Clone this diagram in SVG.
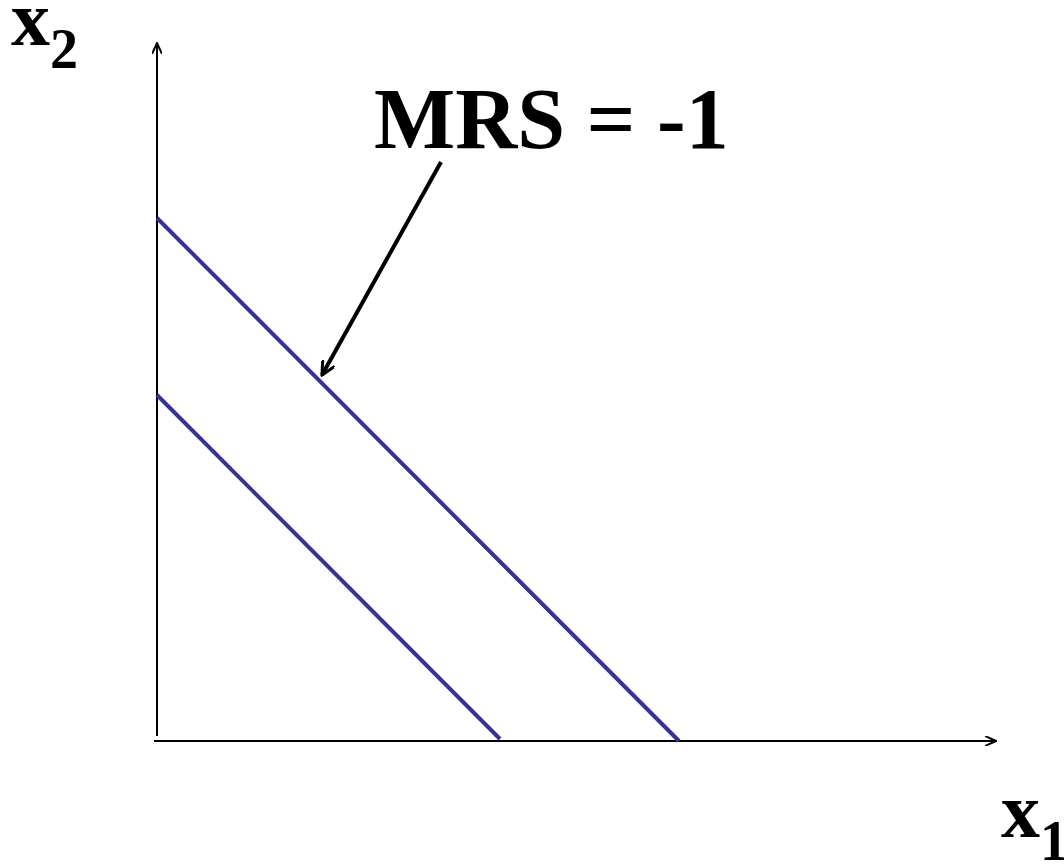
<svg xmlns="http://www.w3.org/2000/svg" width="1064" height="865" viewBox="0 0 1064 865">
<style>
.lbl{font-family:"Liberation Serif","Times New Roman",serif;font-weight:bold;fill:#000}
.axis{stroke:#000;stroke-width:2;fill:none}
.ic{stroke:#333399;stroke-width:4;fill:none}
</style>
<defs>
<marker id="ah" markerWidth="12" markerHeight="10" refX="11" refY="5" orient="auto" markerUnits="userSpaceOnUse">
<path d="M0,0 L11,5 L0,10" fill="none" stroke="#000" stroke-width="2"/>
</marker>
<marker id="ah2" markerWidth="16" markerHeight="14" refX="14" refY="7" orient="auto" markerUnits="userSpaceOnUse">
<path d="M0,0 L14,7 L0,14" fill="none" stroke="#000" stroke-width="3"/>
</marker>
</defs>
<rect width="1064" height="865" fill="#fff"/>
<g id="axes">
<line class="axis" x1="157" y1="736" x2="157" y2="43" marker-end="url(#ah)"/>
<line class="axis" x1="154" y1="741" x2="996" y2="741" marker-end="url(#ah)"/>
</g>
<g id="curves">
<line class="ic" x1="157" y1="218" x2="679" y2="741"/>
<line class="ic" x1="157" y1="395" x2="500" y2="739"/>
</g>
<g id="connectors">
<line x1="441" y1="162" x2="322" y2="375" stroke="#000" stroke-width="4" marker-end="url(#ah2)"/>
</g>
<g id="labels">
<text class="lbl" x="374" y="148" font-size="86">MRS = -1</text>
<text class="lbl" x="11" y="45" font-size="78">x<tspan font-size="56" dy="23">2</tspan></text>
<text class="lbl" x="1001" y="837" font-size="78">x<tspan font-size="56" dy="23">1</tspan></text>
</g>
</svg>
